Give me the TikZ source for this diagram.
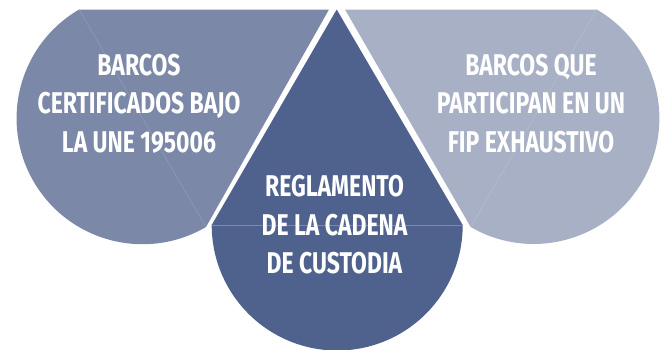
\documentclass[tikz,border=0pt]{standalone}
\usepackage{fontspec}
\newfontfamily\condfont[FakeStretch=0.765]{Fira Sans}
\definecolor{leftc}{RGB}{123,136,168}
\definecolor{midc}{RGB}{79,97,141}
\definecolor{rightc}{RGB}{168,176,198}
\begin{document}
\begin{tikzpicture}[x=1pt,y=-1pt,
  lbl/.style={text=white,align=center,inner sep=0pt,
    font=\condfont\bfseries\fontsize{30}{38.5}\selectfont},
  seam/.style={line width=0.4pt}]
\useasboundingbox (0,0) rectangle (668,349);
% left drop
\coordinate (LA) at (79,9.5);
\coordinate (LB) at (329,9.5);
\coordinate (LC) at (206,227);
\fill[leftc] (LA) -- (LB) -- (LC) arc[start angle=59.7,end angle=239.7,radius=125.9] -- cycle;
\draw[seam,leftc!80!white] (LA) -- (LC);
% right drop
\coordinate (RA) at (345,9.5);
\coordinate (RB) at (596.7,9.5);
\coordinate (RC) at (470.7,227);
\fill[rightc] (RA) -- (RB) arc[start angle=-59.9,end angle=120.1,radius=125.7] -- cycle;
\draw[seam,rightc!80!white] (RB) -- (RC);
% centre drop
\coordinate (CT) at (336.7,9.5);
\coordinate (CL) at (211.7,225);
\coordinate (CR) at (462.7,225);
\fill[midc] (CT) -- (CR) arc[start angle=0,end angle=180,radius=125.5] -- cycle;
\draw[seam,midc!75!white] (CL) -- (CR);
% texts
\node[lbl] (tl) at (139,103.5) {BARCOS\\CERTIFICADOS BAJO\\LA UNE 195006};
\node[lbl] (tr) at (531,103.5) {BARCOS QUE\\PARTICIPAN EN UN\\FIP EXHAUSTIVO};
\node[lbl] (tc) at (334.5,225) {REGLAMENTO\\DE LA CADENA\\DE CUSTODIA};
\end{tikzpicture}
\end{document}
